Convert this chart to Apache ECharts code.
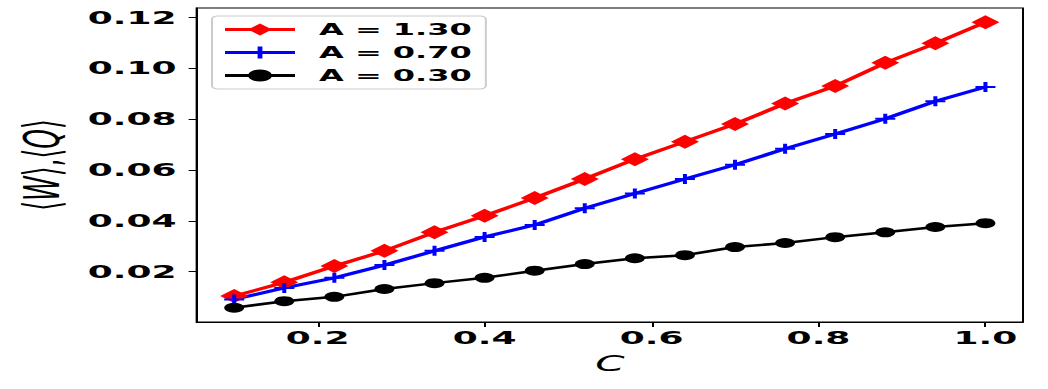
<!DOCTYPE html>
<html>
<head>
<meta charset="utf-8">
<script src="https://cdn.jsdelivr.net/npm/echarts@6/dist/echarts.min.js"></script>
<style>
html,body{margin:0;padding:0;background:#fff;overflow:hidden;width:1048px;height:389px;}
#chart{width:524px;height:389px;transform:scaleX(2);transform-origin:0 0;}
</style>
</head>
<body>
<div id="chart"></div>
<script>
const cValues = [0.10,0.16,0.22,0.28,0.34,0.40,0.46,0.52,0.58,0.64,0.70,0.76,0.82,0.88,0.94,1.00];
const seriesNames = ['A = 1.30','A = 0.70','A = 0.30'];
const valsA130 = [0.0104,0.0158,0.0222,0.0282,0.0355,0.0420,0.0490,0.0565,0.0643,0.0712,0.0781,0.0862,0.0931,0.1022,0.1099,0.1182];
const valsA070 = [0.0091,0.0136,0.0176,0.0226,0.0282,0.0337,0.0384,0.0450,0.0508,0.0565,0.0621,0.0684,0.0742,0.0802,0.0871,0.0927];
const valsA030 = [0.0058,0.0084,0.0101,0.0132,0.0155,0.0176,0.0204,0.0230,0.0253,0.0265,0.0297,0.0313,0.0336,0.0355,0.0376,0.0391];
const xTicks = [0.2,0.4,0.6,0.8,1.0];
const yTicks = [0.02,0.04,0.06,0.08,0.10,0.12];

const FONT = 'DejaVu Sans';
const plusPath = 'path://M0.4,0H0.6V0.4H1V0.6H0.6V1H0.4V0.6H0V0.4H0.4Z';
const zip = (xs, ys) => xs.map((x, i) => [x, ys[i]]);

const chart = echarts.init(document.getElementById('chart'), null, {renderer: 'svg'});
chart.setOption({
  animation: false,
  backgroundColor: '#fff',
  grid: {left: 97.5, right: 12.5, top: 8, bottom: 67, show: true, borderColor: '#000', borderWidth: 1, backgroundColor: 'transparent'},
  legend: {
    orient: 'vertical', left: 106, top: 16,
    padding: [5.5, 7, 5.5, 5],
    itemGap: 7, itemWidth: 35, itemHeight: 15,
    borderColor: '#cccccc', borderWidth: 1, borderRadius: 3,
    backgroundColor: 'rgba(255,255,255,0.8)',
    lineStyle: {width: 3},
    textStyle: {fontFamily: FONT, fontWeight: 'bold', fontSize: 16, color: '#000', lineHeight: 15, padding: [0, 0, 0, 7]},
    data: seriesNames
  },
  xAxis: {
    type: 'value', min: 0.055, max: 1.045,
    name: 'C', nameLocation: 'middle', nameGap: 31,
    nameTextStyle: {fontFamily: FONT, fontStyle: 'italic', fontSize: 21, color: '#000'},
    axisLine: {show: true, lineStyle: {color: '#000', width: 1}},
    axisTick: {show: true, customValues: xTicks, length: 5, lineStyle: {color: '#000', width: 1}},
    axisLabel: {customValues: xTicks, margin: 7, fontFamily: FONT, fontWeight: 'bold', fontSize: 18, color: '#000',
      formatter: v => v.toFixed(1)},
    splitLine: {show: false}
  },
  yAxis: {
    type: 'value', min: 0.0002, max: 0.1238,
    name: '{n|⟨}{i|W}{n|⟩,⟨}{i|Q}{n|⟩}', nameLocation: 'middle', nameGap: 62, nameRotate: 90,
    nameTextStyle: {color: '#000', rich: {
      n: {fontFamily: FONT, fontSize: 25, color: '#000'},
      i: {fontFamily: FONT, fontSize: 25, fontStyle: 'italic', color: '#000'}
    }},
    axisLine: {show: true, lineStyle: {color: '#000', width: 1}},
    axisTick: {show: true, customValues: yTicks, length: 4, lineStyle: {color: '#000', width: 1}},
    axisLabel: {customValues: yTicks, margin: 10, fontFamily: FONT, fontWeight: 'bold', fontSize: 18, color: '#000',
      formatter: v => v.toFixed(2)},
    splitLine: {show: false}
  },
  series: [
    {name: seriesNames[0], type: 'line', data: zip(cValues, valsA130), symbol: 'diamond', symbolSize: 14,
      lineStyle: {color: '#ff0000', width: 3}, itemStyle: {color: '#ff0000'}},
    {name: seriesNames[1], type: 'line', data: zip(cValues, valsA070), symbol: plusPath, symbolSize: 10,
      lineStyle: {color: '#0000ff', width: 3}, itemStyle: {color: '#0000ff'}},
    {name: seriesNames[2], type: 'line', data: zip(cValues, valsA030), symbol: 'circle', symbolSize: 10,
      lineStyle: {color: '#000000', width: 2.5}, itemStyle: {color: '#000000'}}
  ]
});
</script>
</body>
</html>
